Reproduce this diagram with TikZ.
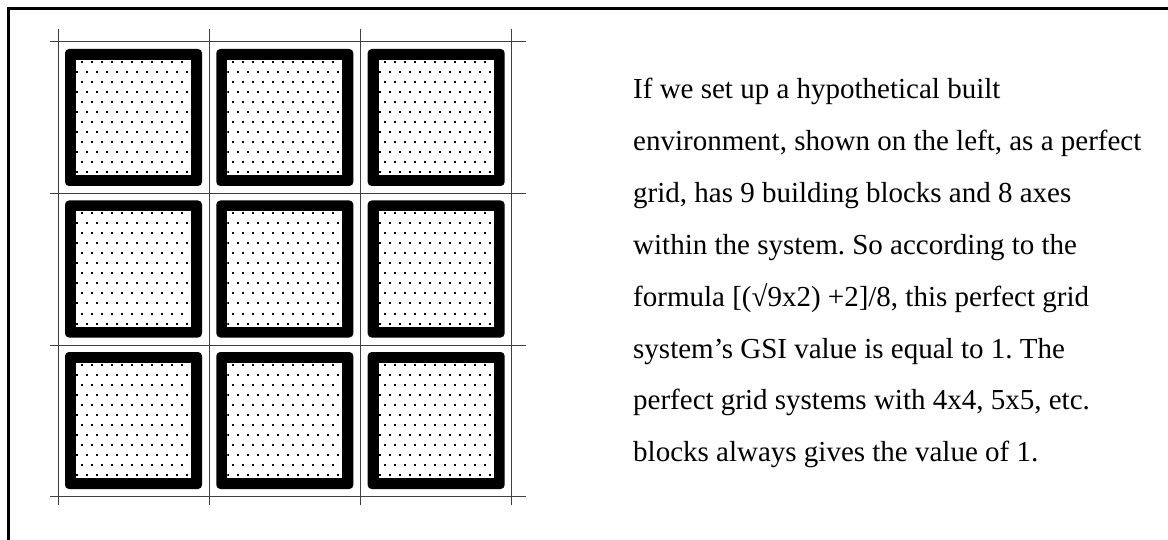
\documentclass[tikz,border=0pt]{standalone}
\usepackage{fontspec}
\setmainfont{Liberation Serif}
\frenchspacing
\begin{document}
\begin{tikzpicture}[x=1pt,y=-1pt,
  gridline/.style={black!75,line width=1pt},
  frameline/.style={line width=3pt},
  blockouter/.style={fill=black,rounded corners=4pt},
  blockinner/.style={fill=white},
  txt/.style={anchor=base west,inner sep=0pt,font=\fontsize{29}{35}\selectfont}]
\useasboundingbox (0,0) rectangle (1168,540);
% frame
\draw[frameline] (8,540) -- (8,9) -- (1168,9);
% grid axes
\foreach \k in {0,1,2,3} {
  \draw[gridline] ({58+151.33*\k},29) -- ({58+151.33*\k},505);
  \draw[gridline] (50,{42+151.5*\k}) -- (526,{42+151.5*\k});
}
% building blocks
\foreach \i in {0,1,2} {
  \foreach \j in {0,1,2} {
    \pgfmathsetmacro\xa{65+151.33*\i}
    \pgfmathsetmacro\ya{49+151.5*\j}
    \fill[blockouter] (\xa,\ya) rectangle ++(137,137);
    \fill[blockinner] ({\xa+11},{\ya+11}) rectangle ++(115,115);
    \begin{scope}
      \clip ({\xa+11},{\ya+11}) rectangle ++(115,115);
      \foreach \r in {0,...,11} {
        \foreach \c in {0,...,11} {
          \fill ({\xa+11+10*\c+5*mod(\r+1,2)},{\ya+12+10*\r}) rectangle ++(2,2);
        }
      }
    \end{scope}
  }
}
% text
\node[txt] (t1) at (633,99) {If we set up a hypothetical built};
\node[txt] (t2) at (633,150.8) {environment, shown on the left, as a perfect};
\node[txt] (t3) at (633,202.6) {grid, has 9 building blocks and 8 axes};
\node[txt] (t4) at (633,254.4) {within the system. So according to the};
\node[txt] (t5) at (633,306.2) {formula [(√9x2) +2]/8, this perfect grid};
\node[txt] (t6) at (633,358) {system’s GSI value is equal to 1. The};
\node[txt] (t7) at (633,409.8) {perfect grid systems with 4x4, 5x5, etc.};
\node[txt] (t8) at (633,461.6) {blocks always gives the value of 1.};
\end{tikzpicture}
\end{document}
